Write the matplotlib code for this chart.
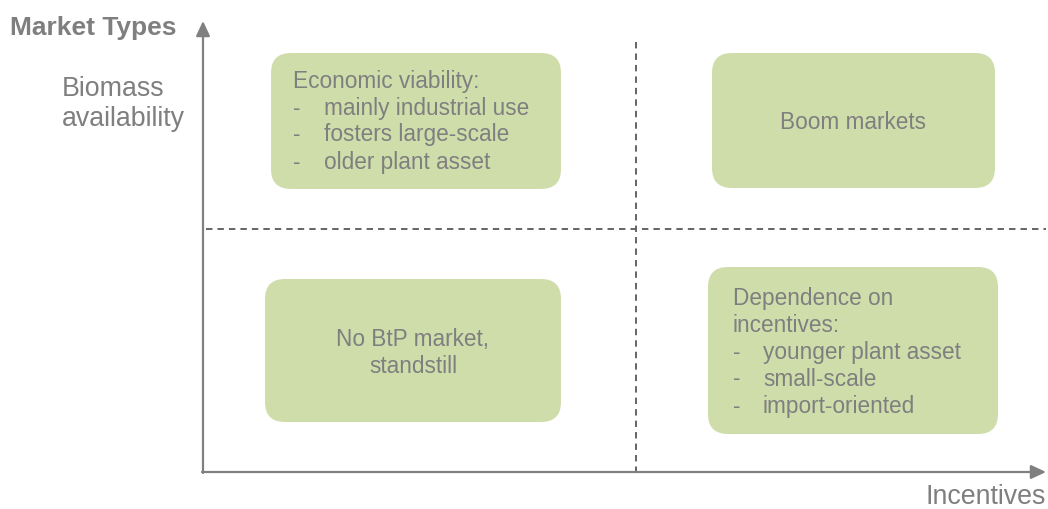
import matplotlib
matplotlib.use("Agg")
import matplotlib.pyplot as plt
from matplotlib.patches import FancyBboxPatch

plt.rcParams['font.family'] = ['Liberation Sans', 'DejaVu Sans']

# ---- content ----
title = "Market Types"
y_label = ["Biomass", "availability"]
x_label = "Incentives"
q_top_left_head = ["Economic viability:"]
q_top_left_items = ["mainly industrial use", "fosters large-scale", "older plant asset"]
q_top_right = ["Boom markets"]
q_bottom_left = ["No BtP market,", "standstill"]
q_bottom_right_head = ["Dependence on", "incentives:"]
q_bottom_right_items = ["younger plant asset", "small-scale", "import-oriented"]

# ---- style ----
W, H = 1048, 509
BOX = '#cfddab'
TXT = '#7f7f7f'
AX = '#808080'
DASH = '#646464'
FS = 16.3
LS = 27  # line step in px

fig = plt.figure(figsize=(W / 100, H / 100), dpi=100)
ax = fig.add_axes([0, 0, 1, 1])
ax.set_xlim(0, W)
ax.set_ylim(H, 0)
ax.set_aspect('equal')
ax.axis('off')

# axes arrows
ax.annotate('', xy=(203, 21), xytext=(203, 473),
            arrowprops=dict(arrowstyle='-|>,head_length=0.9,head_width=0.42', lw=1.6,
                            color=AX, shrinkA=0, shrinkB=0), annotation_clip=False)
ax.annotate('', xy=(1046, 472), xytext=(202, 472),
            arrowprops=dict(arrowstyle='-|>,head_length=0.9,head_width=0.42', lw=1.6,
                            color=AX, shrinkA=0, shrinkB=0), annotation_clip=False)

# dashed quadrant lines
ax.plot([636, 636], [42, 471], ls=(0, (3.3, 2.6)), color=DASH, lw=1.4)
ax.plot([206, 1046], [229, 229], ls=(0, (3.3, 2.6)), color=DASH, lw=1.4)

def box(x0, y0, x1, y1):
    p = FancyBboxPatch((x0, y0), x1 - x0, y1 - y0,
                       boxstyle='round,pad=0,rounding_size=20',
                       fc=BOX, ec='none', zorder=2)
    ax.add_patch(p)

box(271, 53, 561, 189)
box(712, 53, 995, 188)
box(265, 279, 561, 422)
box(708, 267, 998, 434)

def bullets(x_head, x_item, y0, head, items):
    y = y0
    for h in head:
        ax.text(x_head, y, h, fontsize=FS, color=TXT, va='center', ha='left', zorder=3)
        y += LS
    for it in items:
        ax.text(x_head, y, '-', fontsize=FS, color=TXT, va='center', ha='left', zorder=3)
        ax.text(x_item, y, it, fontsize=FS, color=TXT, va='center', ha='left', zorder=3)
        y += LS

bullets(293, 324, 81, q_top_left_head, q_top_left_items)
bullets(733, 763, 298, q_bottom_right_head, q_bottom_right_items)

ax.text(853, 122, "\n".join(q_top_right), fontsize=FS, color=TXT, ha='center', va='center', zorder=3)
ax.text(413, 353, "\n".join(q_bottom_left), fontsize=FS, color=TXT, ha='center', va='center',
        linespacing=1.2, zorder=3)

# titles / labels
ax.text(10, 28, title, fontsize=19, fontweight='bold', color=TXT, ha='left', va='center')
ax.text(62, 104, "\n".join(y_label), fontsize=19.3, color=TXT, ha='left', va='center', linespacing=1.2)
ax.text(1046, 497, x_label, fontsize=19.3, color=TXT, ha='right', va='center')

fig.savefig('out.png', dpi=100)
